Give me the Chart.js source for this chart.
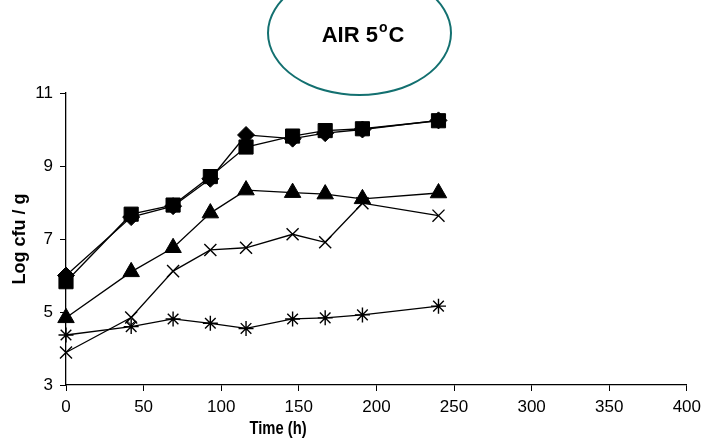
<!DOCTYPE html>
<html>
<head>
<meta charset="utf-8">
<script src="https://cdn.jsdelivr.net/npm/chart.js@4/dist/chart.umd.min.js"></script>
<style>
  html, body { margin: 0; padding: 0; background: #fff; }
  #wrap { position: relative; width: 707px; height: 445px; overflow: hidden; }
  #cv { position: absolute; left: 0; top: 0; }
  #badge {
    position: absolute; left: 267px; top: -30px; width: 185px; height: 126px;
    box-sizing: border-box; border: 2.5px solid #137070; border-radius: 50%;
  }
  #badgeText {
    position: absolute; left: 263px; top: 24px; width: 200px; text-align: center;
    font: bold 22px "Liberation Sans", Arial, sans-serif; line-height: 22px; color: #000;
  }
  #badgeText span { font-size: 14px; position: relative; top: -10px; margin: 0 1px; }
  #xTitle {
    position: absolute; left: 178px; top: 419px; width: 200px; text-align: center;
    font: bold 18px "Liberation Sans", Arial, sans-serif; line-height: 18px;
    transform: scaleX(0.82);
  }
</style>
</head>
<body>
<div id="wrap">
  <canvas id="cv" width="707" height="445"></canvas>
  <div id="badge"></div>
  <div id="badgeText">AIR 5<span>o</span>C</div>
  <div id="xTitle">Time (h)</div>
</div>
<script>
// sampling times (h)
const hours = [0, 42, 69, 93, 116, 146, 167, 191, 240];

// log cfu / g for each series
const diamondVals = [6.0, 7.6, 7.9, 8.65, 9.85, 9.75, 9.9, 10.0, 10.25];
const squareVals = [5.83, 7.68, 7.93, 8.71, 9.52, 9.82, 9.97, 10.02, 10.24];
const triangleVals = [4.84, 6.1, 6.76, 7.71, 8.34, 8.27, 8.23, 8.1, 8.26];
const crossVals = [3.89, 4.85, 6.12, 6.7, 6.76, 7.13, 6.91, 7.98, 7.64];
const starVals = [4.37, 4.6, 4.81, 4.69, 4.55, 4.81, 4.84, 4.92, 5.16];

// lone open diamond near 42 h
const openDiamondX = [42];
const openDiamondY = [4.76];

const xTicks = [0, 50, 100, 150, 200, 250, 300, 350, 400];
const yTicks = [3, 5, 7, 9, 11];

function pts(xs, ys) {
  return xs.map((x, i) => ({ x: x, y: ys[i] }));
}

function series(vals, style, radius, filled, order) {
  return {
    data: pts(hours, vals),
    borderColor: "#000",
    borderWidth: 1.3,
    pointStyle: style,
    pointRadius: radius,
    pointBackgroundColor: filled ? "#000" : "#fff",
    pointBorderColor: "#000",
    pointBorderWidth: filled ? 1 : 1.4,
    showLine: true,
    clip: false,
    order: order
  };
}

const ctx = document.getElementById("cv").getContext("2d");
new Chart(ctx, {
  type: "scatter",
  data: {
    datasets: [
      series(squareVals, "rect", 10, true, 1),
      series(diamondVals, "rectRot", 8.5, true, 2),
      series(triangleVals, "triangle", 9.5, true, 3),
      series(crossVals, "crossRot", 8.5, false, 4),
      series(starVals, "star", 7.5, false, 5),
      {
        data: pts(openDiamondX, openDiamondY),
        showLine: false,
        pointStyle: "rectRot",
        pointRadius: 4,
        pointBackgroundColor: "#fff",
        pointBorderColor: "#000",
        pointBorderWidth: 1,
        clip: false,
        order: 6
      }
    ]
  },
  options: {
    responsive: false,
    animation: false,
    layout: { padding: { left: 0, right: 16, top: 93, bottom: 0 } },
    plugins: { legend: { display: false }, tooltip: { enabled: false } },
    scales: {
      x: {
        type: "linear",
        min: 0,
        max: 400,
        afterBuildTicks: s => { s.ticks = xTicks.map(v => ({ value: v })); },
        afterFit: s => { s.height = 60; },
        grid: { drawOnChartArea: false, drawTicks: true, tickLength: 6, color: "#000", lineWidth: 1 },
        border: { display: true, color: "#000", width: 1.3 },
        ticks: {
          color: "#000",
          padding: 6,
          maxRotation: 0,
          font: { family: "'Liberation Sans', Arial", size: 17 }
        }
      },
      y: {
        type: "linear",
        min: 3,
        max: 11,
        afterBuildTicks: s => { s.ticks = yTicks.map(v => ({ value: v })); },
        afterFit: s => { s.width = 66; },
        grid: { drawOnChartArea: false, drawTicks: true, tickLength: 6, color: "#000", lineWidth: 1 },
        border: { display: true, color: "#000", width: 1.3 },
        ticks: {
          color: "#000",
          padding: 7,
          font: { family: "'Liberation Sans', Arial", size: 17 }
        },
        title: {
          display: true,
          text: "Log cfu / g",
          color: "#000",
          padding: { top: 9, bottom: 0 },
          font: { family: "'Liberation Sans', Arial", size: 18, weight: "bold" }
        }
      }
    }
  }
});
</script>
</body>
</html>
